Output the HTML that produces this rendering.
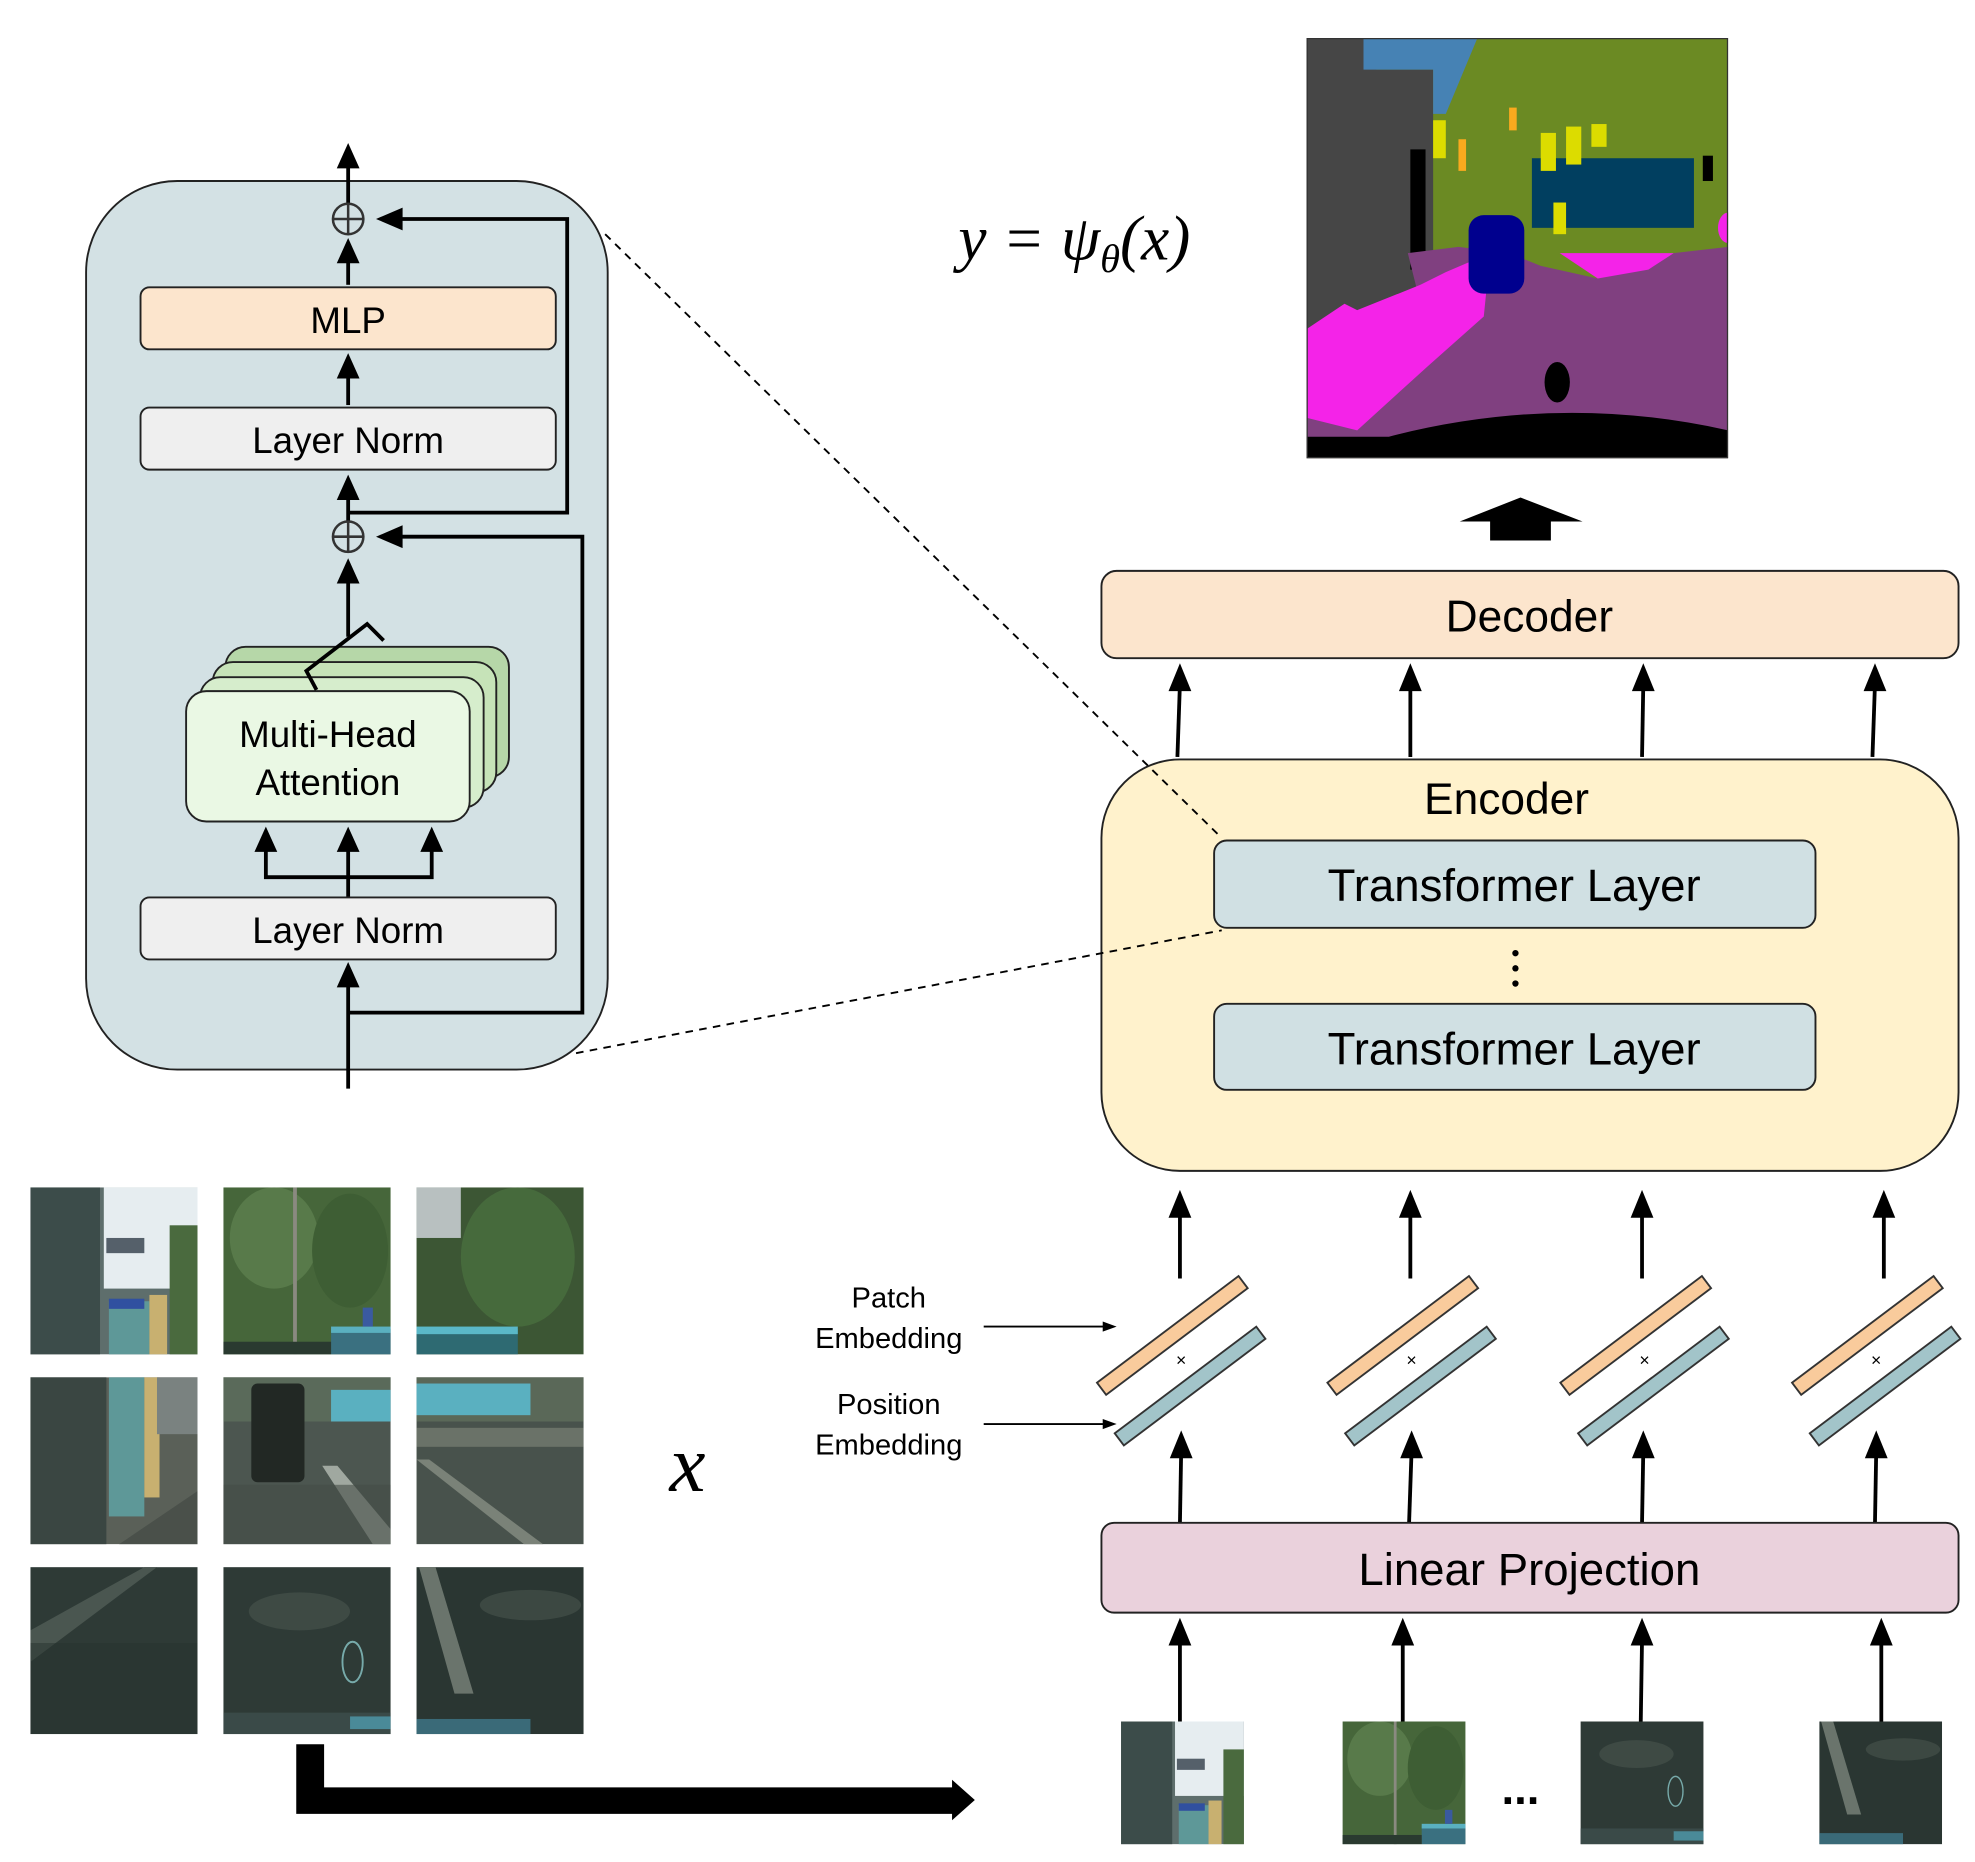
<!DOCTYPE html>
<html><head><meta charset="utf-8"><style>
html,body{margin:0;padding:0;background:#fff;}
svg{display:block;}
text{font-family:"Liberation Sans",sans-serif;}
text.serif{font-family:"Liberation Serif",serif;}
</style></head><body>
<svg width="1975" height="1862" viewBox="0 0 1560 1471" preserveAspectRatio="none" xmlns="http://www.w3.org/2000/svg">
<defs>
<symbol id="p1" viewBox="0 0 132 132">
<rect width="132" height="132" fill="#5e6e6c"/>
<rect x="0" y="0" width="55" height="132" fill="#3c4c4a"/>
<rect x="58" y="0" width="74" height="80" fill="#e6edf0"/>
<rect x="60" y="40" width="30" height="12" fill="#55606a"/>
<rect x="110" y="30" width="22" height="102" fill="#4a6a3e"/>
<rect x="62" y="90" width="32" height="42" fill="#5e9898"/>
<rect x="94" y="85" width="14" height="47" fill="#c8b070"/>
<rect x="62" y="88" width="28" height="8" fill="#3050a0"/>
</symbol>
<symbol id="p2" viewBox="0 0 132 132">
<rect width="132" height="132" fill="#46663a"/>
<ellipse cx="40" cy="40" rx="35" ry="40" fill="#587a4a"/>
<ellipse cx="100" cy="50" rx="30" ry="45" fill="#3e5e34"/>
<rect x="55" y="0" width="3" height="132" fill="#8a8a80"/>
<rect x="85" y="112" width="47" height="20" fill="#3a7080"/>
<rect x="85" y="110" width="47" height="5" fill="#5ab0c0"/>
<rect x="0" y="122" width="85" height="10" fill="#2a3a30"/>
<rect x="110" y="95" width="8" height="15" fill="#3a5aa0"/>
</symbol>
<symbol id="p3" viewBox="0 0 132 132">
<rect width="132" height="132" fill="#3c5634"/>
<rect x="0" y="0" width="35" height="40" fill="#b8c0c0"/>
<ellipse cx="80" cy="55" rx="45" ry="55" fill="#466a3c"/>
<rect x="0" y="112" width="80" height="20" fill="#2e6a72"/>
<rect x="0" y="110" width="80" height="6" fill="#5ab8c8"/>
</symbol>
<symbol id="p4" viewBox="0 0 132 132">
<rect width="132" height="132" fill="#5a6058"/>
<rect x="0" y="0" width="60" height="132" fill="#3a4642"/>
<rect x="62" y="0" width="28" height="110" fill="#5e9898"/>
<rect x="90" y="0" width="12" height="95" fill="#c8b070"/>
<rect x="100" y="0" width="32" height="45" fill="#7a8280"/>
<polygon points="70,132 132,90 132,132" fill="#4a504a"/>
</symbol>
<symbol id="p5" viewBox="0 0 132 132">
<rect width="132" height="132" fill="#4c5650"/>
<rect x="0" y="0" width="132" height="35" fill="#5a6a5a"/>
<rect x="85" y="10" width="47" height="25" fill="#5ab0c0"/>
<rect x="22" y="5" width="42" height="78" rx="5" fill="#222824"/>
<polygon points="78,70 90,70 132,120 132,132 118,132" fill="#a0a8a0"/>
<rect x="0" y="85" width="132" height="47" fill="#444c46" opacity="0.6"/>
</symbol>
<symbol id="p6" viewBox="0 0 132 132">
<rect width="132" height="132" fill="#48524c"/>
<rect x="0" y="0" width="132" height="35" fill="#5a6858"/>
<rect x="0" y="5" width="90" height="25" fill="#5ab0c0"/>
<rect x="0" y="40" width="132" height="15" fill="#6a7268"/>
<polygon points="0,65 10,65 100,132 85,132" fill="#7a8278"/>
</symbol>
<symbol id="p7" viewBox="0 0 132 132">
<rect width="132" height="132" fill="#2e3a36"/>
<polygon points="0,50 90,0 100,0 0,75" fill="#4a5650"/>
<rect x="0" y="60" width="132" height="72" fill="#26322e" opacity="0.5"/>
</symbol>
<symbol id="p8" viewBox="0 0 132 132">
<rect width="132" height="132" fill="#2e3a36"/>
<ellipse cx="60" cy="35" rx="40" ry="15" fill="#3e4a44"/>
<rect x="0" y="115" width="132" height="17" fill="#3a4a48"/>
<rect x="100" y="118" width="32" height="10" fill="#4a8a98"/>
<ellipse cx="102" cy="75" rx="8" ry="16" fill="none" stroke="#7aa" stroke-width="1.5"/>
</symbol>
<symbol id="p9" viewBox="0 0 132 132">
<rect width="132" height="132" fill="#2a3632"/>
<polygon points="2,0 15,0 45,100 30,100" fill="#6a746c"/>
<ellipse cx="90" cy="30" rx="40" ry="12" fill="#3c4842"/>
<rect x="0" y="120" width="90" height="12" fill="#3a6a78"/>
</symbol>
</defs>

<!-- Left block -->
<rect x="68" y="143" width="412" height="702" rx="72" fill="#d3e1e4" stroke="#222" stroke-width="1.5"/>
<g stroke="#000" stroke-width="3" fill="none">
<line x1="275" y1="161" x2="275" y2="128"/>
<line x1="275" y1="225" x2="275" y2="200"/>
<line x1="275" y1="320" x2="275" y2="292"/>
<line x1="275" y1="412" x2="275" y2="388"/>
<polyline points="275,405 448,405 448,173 310,173"/>
<polyline points="275,800 460,800 460,424 310,424"/>
<line x1="275" y1="503" x2="275" y2="455"/>
<line x1="275" y1="860" x2="275" y2="775"/>
<line x1="275" y1="709" x2="275" y2="670"/>
<polyline points="210,670 210,693 341,693 341,670"/>
</g>
<g fill="#000">
<polygon points="275,113 266,133 284,133"/>
<polygon points="275,188 266,208 284,208"/>
<polygon points="275,279 266,299 284,299"/>
<polygon points="275,375 266,395 284,395"/>
<polygon points="275,441 266,461 284,461"/>
<polygon points="275,760 266,780 284,780"/>
<polygon points="210,653 201,673 219,673"/>
<polygon points="275,653 266,673 284,673"/>
<polygon points="341,653 332,673 350,673"/>
<polygon points="297,173 318,164 318,182"/>
<polygon points="297,424 318,415 318,433"/>
</g>
<g stroke="#333" stroke-width="2" fill="none">
<circle cx="275" cy="173" r="12"/><line x1="263" y1="173" x2="287" y2="173"/><line x1="275" y1="161" x2="275" y2="185"/>
<circle cx="275" cy="424" r="12"/><line x1="263" y1="424" x2="287" y2="424"/><line x1="275" y1="412" x2="275" y2="436"/>
</g>
<rect x="111" y="227" width="328" height="49" rx="7" fill="#fce5cd" stroke="#222" stroke-width="1.5"/>
<text x="275" y="263" font-size="29" text-anchor="middle">MLP</text>
<rect x="111" y="322" width="328" height="49" rx="7" fill="#efefef" stroke="#222" stroke-width="1.5"/>
<text x="275" y="358" font-size="29" text-anchor="middle">Layer Norm</text>
<rect x="111" y="709" width="328" height="49" rx="7" fill="#efefef" stroke="#222" stroke-width="1.5"/>
<text x="275" y="745" font-size="29" text-anchor="middle">Layer Norm</text>
<rect x="178" y="511" width="224" height="103" rx="16" fill="#b6d7a8" stroke="#222" stroke-width="1.5"/>
<rect x="168" y="523" width="224" height="103" rx="16" fill="#c6e3b8" stroke="#222" stroke-width="1.5"/>
<rect x="158" y="535" width="224" height="103" rx="16" fill="#d6edcc" stroke="#222" stroke-width="1.5"/>
<rect x="147" y="546" width="224" height="103" rx="16" fill="#eaf8e4" stroke="#222" stroke-width="1.5"/>
<polyline points="250,545 242,530 290,493 303,506" fill="none" stroke="#000" stroke-width="3"/>
<text x="259" y="590" font-size="29" text-anchor="middle">Multi-Head</text>
<text x="259" y="628" font-size="29" text-anchor="middle">Attention</text>

<!-- formula -->
<text class="serif" x="757" y="205" font-size="50" font-style="italic">y = ψ<tspan font-size="32" dy="10">θ</tspan><tspan dy="-10">(x)</tspan></text>

<!-- segmentation -->
<svg x="1032" y="30" width="333" height="332" viewBox="0 0 333 332">
<rect width="333" height="332" fill="#6b8a23"/>
<polygon points="0,0 55,0 55,25 100,25 100,300 0,300" fill="#464646"/>
<polygon points="45,0 135,0 110,60 100,60 100,25 45,25" fill="#4682b4"/>
<rect x="82" y="88" width="12" height="95" fill="#000"/>
<rect x="178" y="95" width="128" height="55" fill="#013f60"/>
<polygon points="80,170 120,165 160,170 185,180 230,190 290,170 333,165 333,332 0,332 0,300 40,270 90,210" fill="#804080"/>
<polygon points="0,300 0,230 30,210 40,215 90,195 110,185 145,170 140,220 95,260 40,310" fill="#f423e8"/>
<polygon points="200,170 290,170 270,183 230,190" fill="#f423e8"/>
<ellipse cx="333" cy="150" rx="8" ry="12" fill="#f423e8"/>
<rect x="128" y="140" width="44" height="62" rx="12" fill="#00008e"/>
<rect x="100" y="65" width="10" height="30" fill="#dcdc00"/>
<rect x="185" y="75" width="12" height="30" fill="#dcdc00"/>
<rect x="205" y="70" width="12" height="30" fill="#dcdc00"/>
<rect x="225" y="68" width="12" height="18" fill="#dcdc00"/>
<rect x="195" y="130" width="10" height="25" fill="#dcdc00"/>
<rect x="120" y="80" width="6" height="25" fill="#faaa1e"/>
<rect x="160" y="55" width="6" height="18" fill="#faaa1e"/>
<rect x="313" y="93" width="8" height="20" fill="#000"/>
<ellipse cx="198" cy="272" rx="10" ry="16" fill="#000"/>
<path d="M0,332 L0,315 L65,315 Q200,280 333,310 L333,332 Z" fill="#000"/>
<rect width="333" height="332" fill="none" stroke="#333" stroke-width="2"/>
</svg>

<polygon points="1201,393 1153,412 1177,412 1177,427 1225,427 1225,412 1250,412" fill="#000"/>

<rect x="870" y="451" width="677" height="69" rx="12" fill="#fce5cd" stroke="#222" stroke-width="1.5"/>
<text x="1208" y="499" font-size="35" text-anchor="middle">Decoder</text>

<rect x="870" y="600" width="677" height="325" rx="62" fill="#fff2cc" stroke="#222" stroke-width="1.5"/>
<text x="1190" y="643" font-size="35" text-anchor="middle">Encoder</text>
<rect x="959" y="664" width="475" height="69" rx="10" fill="#d0e0e3" stroke="#222" stroke-width="1.5"/>
<text x="1196" y="712" font-size="36" text-anchor="middle">Transformer Layer</text>
<rect x="959" y="793" width="475" height="68" rx="10" fill="#d0e0e3" stroke="#222" stroke-width="1.5"/>
<text x="1196" y="841" font-size="36" text-anchor="middle">Transformer Layer</text>
<g fill="#000"><circle cx="1197" cy="753" r="2.5"/><circle cx="1197" cy="765" r="2.5"/><circle cx="1197" cy="777" r="2.5"/></g>

<!-- dashed lines (on top) -->
<line x1="478" y1="185" x2="965" y2="662" stroke="#000" stroke-width="1.5" stroke-dasharray="6,5"/>
<line x1="455" y1="832" x2="965" y2="735" stroke="#000" stroke-width="1.5" stroke-dasharray="6,5"/>

<g stroke="#000" stroke-width="3">
<line x1="930" y1="598" x2="932" y2="540"/><line x1="1114" y1="598" x2="1114" y2="540"/>
<line x1="1297" y1="598" x2="1298" y2="540"/><line x1="1479" y1="598" x2="1481" y2="540"/>
<line x1="932" y1="1010" x2="932" y2="955"/><line x1="1114" y1="1010" x2="1114" y2="955"/>
<line x1="1297" y1="1010" x2="1297" y2="955"/><line x1="1488" y1="1010" x2="1488" y2="955"/>
<line x1="932" y1="1203" x2="933" y2="1145"/><line x1="1113" y1="1203" x2="1115" y2="1145"/>
<line x1="1297" y1="1203" x2="1298" y2="1145"/><line x1="1481" y1="1203" x2="1482" y2="1145"/>
<line x1="932" y1="1360" x2="932" y2="1295"/><line x1="1108" y1="1360" x2="1108" y2="1295"/>
<line x1="1296" y1="1360" x2="1297" y2="1295"/><line x1="1486" y1="1360" x2="1486" y2="1295"/>
</g>
<g fill="#000">
<polygon points="932,524 923,546 941,546"/><polygon points="1114,524 1105,546 1123,546"/>
<polygon points="1298,524 1289,546 1307,546"/><polygon points="1481,524 1472,546 1490,546"/>
<polygon points="932,940 923,962 941,962"/><polygon points="1114,940 1105,962 1123,962"/>
<polygon points="1297,940 1288,962 1306,962"/><polygon points="1488,940 1479,962 1497,962"/>
<polygon points="933,1130 924,1152 942,1152"/><polygon points="1115,1130 1106,1152 1124,1152"/>
<polygon points="1298,1130 1289,1152 1307,1152"/><polygon points="1482,1130 1473,1152 1491,1152"/>
<polygon points="932,1278 923,1300 941,1300"/><polygon points="1108,1278 1099,1300 1117,1300"/>
<polygon points="1297,1278 1288,1300 1306,1300"/><polygon points="1486,1278 1477,1300 1495,1300"/>
</g>

<g id="emb">
<g transform="translate(926,1055) rotate(-37)"><rect x="-70" y="-6" width="140" height="12" fill="#f9cb9c" stroke="#333" stroke-width="1.5"/></g>
<g transform="translate(940,1095) rotate(-37)"><rect x="-70" y="-6" width="140" height="12" fill="#a2c4c9" stroke="#333" stroke-width="1.5"/></g>
<text x="933" y="1079" font-size="14" text-anchor="middle">×</text>
</g>
<use href="#emb" x="182"/>
<use href="#emb" x="366"/>
<use href="#emb" x="549"/>

<text x="702" y="1033" font-size="23" text-anchor="middle">Patch</text>
<text x="702" y="1065" font-size="23" text-anchor="middle">Embedding</text>
<text x="702" y="1117" font-size="23" text-anchor="middle">Position</text>
<text x="702" y="1149" font-size="23" text-anchor="middle">Embedding</text>
<g stroke="#000" stroke-width="1.5"><line x1="777" y1="1048" x2="872" y2="1048"/><line x1="777" y1="1125" x2="872" y2="1125"/></g>
<g fill="#000"><polygon points="882,1048 871,1044 871,1052"/><polygon points="882,1125 871,1121 871,1129"/></g>

<rect x="870" y="1203" width="677" height="71" rx="10" fill="#ead1dc" stroke="#222" stroke-width="1.5"/>
<text x="1208" y="1252" font-size="36" text-anchor="middle">Linear Projection</text>

<use href="#p1" x="885" y="1360" width="98" height="97"/>
<use href="#p2" x="1060" y="1360" width="98" height="97"/>
<use href="#p8" x="1248" y="1360" width="98" height="97"/>
<use href="#p9" x="1437" y="1360" width="97" height="97"/>
<text x="1201" y="1425" font-size="36" font-weight="bold" text-anchor="middle">...</text>

<use href="#p1" x="24" y="938" width="132" height="132"/>
<use href="#p2" x="176" y="938" width="133" height="132"/>
<use href="#p3" x="329" y="938" width="132" height="132"/>
<use href="#p4" x="24" y="1088" width="132" height="132"/>
<use href="#p5" x="176" y="1088" width="133" height="132"/>
<use href="#p6" x="329" y="1088" width="132" height="132"/>
<use href="#p7" x="24" y="1238" width="132" height="132"/>
<use href="#p8" x="176" y="1238" width="133" height="132"/>
<use href="#p9" x="329" y="1238" width="132" height="132"/>

<text class="serif" x="543" y="1178" font-size="64" font-style="italic" text-anchor="middle">x</text>

<polygon points="234,1378 256,1378 256,1412 752,1412 752,1406 770,1422 752,1438 752,1433 234,1433" fill="#000"/>
</svg>
</body></html>
